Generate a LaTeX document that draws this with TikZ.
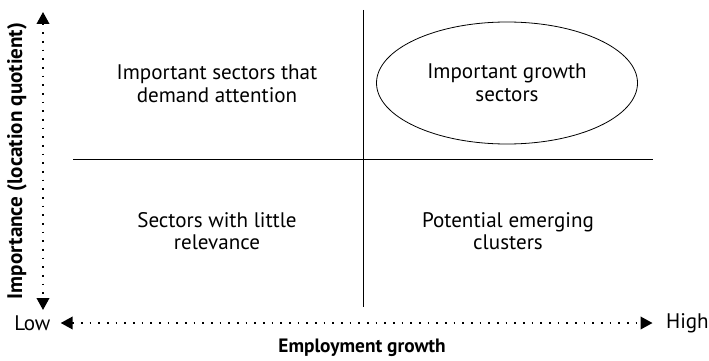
\documentclass[tikz,border=0pt]{standalone}
\usepackage{fontspec}
\setmainfont{PT Sans}
\usetikzlibrary{shapes.geometric, arrows.meta, positioning}

\begin{document}
\begin{tikzpicture}[
        x=0.75pt, y=-0.75pt,
        >={Triangle[length=9pt,width=9.5pt]},
        every node/.style={font=\fontsize{15.8}{17}\selectfont},
        quad/.style={align=center, inner sep=0pt},
        axislabel/.style={font=\fontsize{14.5}{16}\selectfont\bfseries, inner sep=0pt},
        axis/.style={line width=1.3pt, dash pattern=on 1.3pt off 5.2pt, <->},
        divider/.style={line width=0.6pt}
    ]
        \useasboundingbox (0,0) rectangle (709,360);

        % Quadranti
        \node [quad] (q1) at (217,84) {Important sectors that\\demand attention};
        \node [quad, draw, ellipse, line width=0.6pt, minimum width=195.75pt, minimum height=91.5pt] (q2) at (507,83) {Important growth\\sectors};
        \node [quad] (q3) at (217,231) {Sectors with little\\relevance};
        \node [quad] (q4) at (508,231) {Potential emerging\\clusters};

        % Divisori
        \coordinate (top) at (363,10);
        \coordinate (bottom) at (363,307);
        \coordinate (left) at (73,159);
        \coordinate (right) at (653,159);
        \draw [divider] (top) -- (bottom);
        \draw [divider] (left) -- (right);

        % Assi
        \node [inner sep=0pt, anchor=west] (low) at (14,323) {Low};
        \node [inner sep=0pt, anchor=east] (high) at (709,323) {High};
        \node [axislabel, anchor=base] (xlabel) at (362,352) {Employment growth};
        \node [axislabel, font=\fontsize{15.8}{17}\selectfont\bfseries, rotate=90] (ylabel) at (17,161) {Importance (location quotient)};
        \coordinate (ytop) at (43,12);
        \coordinate (ybot) at (43,310);
        \draw [axis] ([xshift=7.5pt] low.east) -- ([xshift=-10pt] high.west);
        \draw [axis] (ytop) -- (ybot);
    \end{tikzpicture}
\end{document}
